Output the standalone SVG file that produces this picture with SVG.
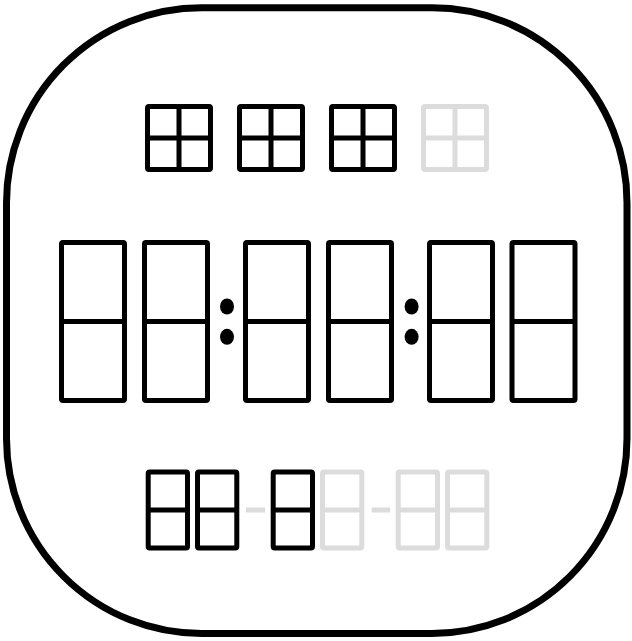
<svg xmlns="http://www.w3.org/2000/svg" width="632" height="641" viewBox="0 0 632 641">
<style>
.frame{fill:#fff;stroke:#000;stroke-width:7}
.on{fill:none;stroke:#000;stroke-width:5;stroke-linejoin:round}
.off{fill:none;stroke:#dcdcdc;stroke-width:5;stroke-linejoin:round}
.dot{fill:#000}
.dash{fill:#dcdcdc}
</style>
<rect width="632" height="641" fill="#fff"/>
<rect class="frame" x="6.5" y="7.7" width="620.5" height="625.8" rx="195" ry="195"/>
<g id="weekdays">
  <g id="wd1" class="on"><rect x="147.5" y="106.5" width="63" height="63" rx="1.5"/><path d="M179 106.5V169.5M147.5 138H210.5"/></g>
  <g id="wd2" class="on"><rect x="239.5" y="106.5" width="63" height="63" rx="1.5"/><path d="M271 106.5V169.5M239.5 138H302.5"/></g>
  <g id="wd3" class="on"><rect x="331.5" y="106.5" width="63" height="63" rx="1.5"/><path d="M363 106.5V169.5M331.5 138H394.5"/></g>
  <g id="wd4" class="off"><rect x="423.5" y="106.5" width="63" height="63" rx="1.5"/><path d="M455 106.5V169.5M423.5 138H486.5"/></g>
</g>
<g id="time">
  <g id="t1" class="on"><rect x="61.5" y="242.5" width="63" height="158" rx="1.5"/><path d="M61.5 321.5H124.5"/></g>
  <g id="t2" class="on"><rect x="144.5" y="242.5" width="63" height="158" rx="1.5"/><path d="M144.5 321.5H207.5"/></g>
  <g id="colon1"><ellipse class="dot" cx="227" cy="306.5" rx="7" ry="8"/><ellipse class="dot" cx="227" cy="336.8" rx="7" ry="8"/></g>
  <g id="t3" class="on"><rect x="245.5" y="242.5" width="63" height="158" rx="1.5"/><path d="M245.5 321.5H308.5"/></g>
  <g id="t4" class="on"><rect x="328.5" y="242.5" width="63" height="158" rx="1.5"/><path d="M328.5 321.5H391.5"/></g>
  <g id="colon2"><ellipse class="dot" cx="411.6" cy="306.5" rx="7" ry="8"/><ellipse class="dot" cx="411.6" cy="336.8" rx="7" ry="8"/></g>
  <g id="t5" class="on"><rect x="429.5" y="242.5" width="63" height="158" rx="1.5"/><path d="M429.5 321.5H492.5"/></g>
  <g id="t6" class="on"><rect x="512" y="242.5" width="63" height="158" rx="1.5"/><path d="M512 321.5H575"/></g>
</g>
<g id="date">
  <g id="d1" class="on"><rect x="148.2" y="472" width="39.3" height="76" rx="1.5"/><path d="M148.2 510H187.5"/></g>
  <g id="d2" class="on"><rect x="197.5" y="472" width="39.3" height="76" rx="1.5"/><path d="M197.5 510H236.8"/></g>
  <rect id="dash1" class="dash" x="246" y="507.5" width="19" height="5"/>
  <g id="d3" class="on"><rect x="273.2" y="472" width="39.3" height="76" rx="1.5"/><path d="M273.2 510H312.5"/></g>
  <g id="d4" class="off"><rect x="322.5" y="472" width="39.3" height="76" rx="1.5"/><path d="M322.5 510H361.8"/></g>
  <rect id="dash2" class="dash" x="371.7" y="507.5" width="18.5" height="5"/>
  <g id="d5" class="off"><rect x="398.2" y="472" width="39.3" height="76" rx="1.5"/><path d="M398.2 510H437.5"/></g>
  <g id="d6" class="off"><rect x="447.5" y="472" width="39.3" height="76" rx="1.5"/><path d="M447.5 510H486.8"/></g>
</g>
</svg>
